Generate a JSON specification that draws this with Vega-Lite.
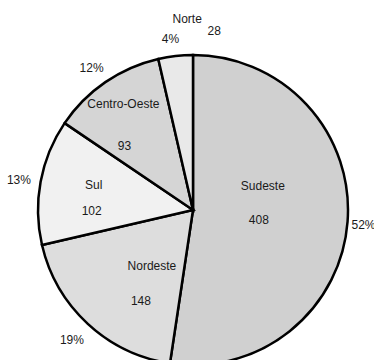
{
  "$schema": "https://vega.github.io/schema/vega-lite/v6.json",
  "autosize": "none",
  "width": 362,
  "height": 300,
  "padding": {"left": 12, "top": 60, "right": 0, "bottom": 0},
  "background": "white",
  "config": {"view": {"stroke": null}, "text": {"font": "Liberation Sans", "fontSize": 12, "fill": "#1a1a1a"}},
  "data": {
    "values": [
      {"idx": 1, "region": "Sudeste", "value": 408, "pct": "52%"},
      {"idx": 2, "region": "Nordeste", "value": 148, "pct": "19%"},
      {"idx": 3, "region": "Sul", "value": 102, "pct": "13%"},
      {"idx": 4, "region": "Centro-Oeste", "value": 93, "pct": "12%"},
      {"idx": 5, "region": "Norte", "value": 28, "pct": "4%"}
    ]
  },
  "encoding": {
    "theta": {"field": "value", "type": "quantitative", "stack": true},
    "order": {"field": "idx", "type": "quantitative"},
    "detail": {"field": "region", "type": "nominal"}
  },
  "layer": [
    {
      "mark": {"type": "arc", "outerRadius": 155, "stroke": "black", "strokeWidth": 2.5},
      "encoding": {
        "color": {
          "field": "region", "type": "nominal", "legend": null,
          "scale": {"domain": ["Sudeste", "Nordeste", "Sul", "Centro-Oeste", "Norte"],
                    "range": ["#d0d0d0", "#dddddd", "#f1f1f1", "#d5d5d5", "#e9e9e9"]}
        }
      }
    },
    {
      "mark": {"type": "text", "radius": 68, "dx": 2, "dy": -29},
      "encoding": {"text": {"condition": {"test": "datum.region !== 'Sudeste'", "value": ""}, "field": "region", "type": "nominal"}}
    },
    {
      "mark": {"type": "text", "radius": 68, "dx": -2, "dy": 5},
      "encoding": {"text": {"condition": {"test": "datum.region !== 'Sudeste'", "value": ""}, "field": "value", "type": "quantitative"}}
    },
    {
      "mark": {"type": "text", "radius": 90, "dx": 20, "dy": -10},
      "encoding": {"text": {"condition": {"test": "datum.region !== 'Nordeste'", "value": ""}, "field": "region", "type": "nominal"}}
    },
    {
      "mark": {"type": "text", "radius": 90, "dx": 9, "dy": 25},
      "encoding": {"text": {"condition": {"test": "datum.region !== 'Nordeste'", "value": ""}, "field": "value", "type": "quantitative"}}
    },
    {
      "mark": {"type": "text", "radius": 100, "dx": -1, "dy": -7},
      "encoding": {"text": {"condition": {"test": "datum.region !== 'Sul'", "value": ""}, "field": "region", "type": "nominal"}}
    },
    {
      "mark": {"type": "text", "radius": 100, "dx": -3, "dy": 19},
      "encoding": {"text": {"condition": {"test": "datum.region !== 'Sul'", "value": ""}, "field": "value", "type": "quantitative"}}
    },
    {
      "mark": {"type": "text", "radius": 109, "dx": -8, "dy": -16},
      "encoding": {"text": {"condition": {"test": "datum.region !== 'Centro-Oeste'", "value": ""}, "field": "region", "type": "nominal"}}
    },
    {
      "mark": {"type": "text", "radius": 109, "dx": -7, "dy": 26},
      "encoding": {"text": {"condition": {"test": "datum.region !== 'Centro-Oeste'", "value": ""}, "field": "value", "type": "quantitative"}}
    },
    {
      "mark": {"type": "text", "radius": 185, "dx": 15, "dy": -7},
      "encoding": {"text": {"condition": {"test": "datum.region !== 'Norte'", "value": ""}, "field": "region", "type": "nominal"}}
    },
    {
      "mark": {"type": "text", "radius": 185, "dx": 42, "dy": 5},
      "encoding": {"text": {"condition": {"test": "datum.region !== 'Norte'", "value": ""}, "field": "value", "type": "quantitative"}}
    },
    {
      "mark": {"type": "text", "radius": 174, "dx": -3, "dy": 2},
      "encoding": {"text": {"field": "pct", "type": "nominal"}}
    }
  ]
}
